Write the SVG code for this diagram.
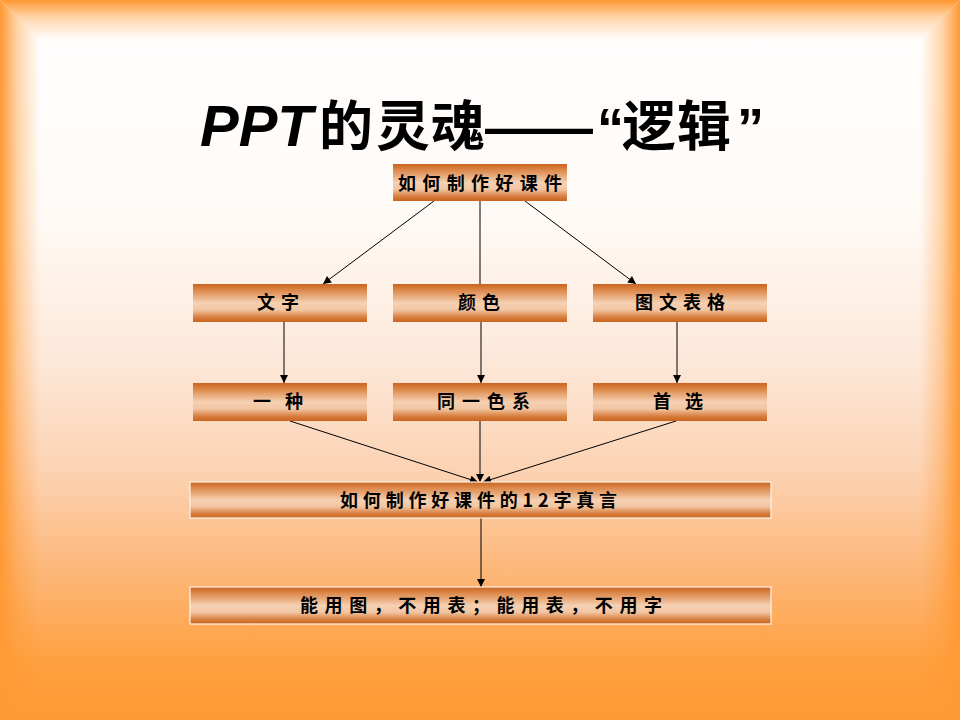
<svg xmlns="http://www.w3.org/2000/svg" width="960" height="720" viewBox="0 0 960 720">
  <defs>
    <linearGradient id="bgV" gradientUnits="userSpaceOnUse" x1="0" y1="0" x2="0" y2="720">
      <stop offset="0" stop-color="#ffffff"/>
      <stop offset="0.3" stop-color="#fffaf6"/>
      <stop offset="0.5" stop-color="#fde8d9"/>
      <stop offset="0.65" stop-color="#fcd3b4"/>
      <stop offset="0.8" stop-color="#fdb676"/>
      <stop offset="0.92" stop-color="#ffa040"/>
      <stop offset="1" stop-color="#ff9933"/>
    </linearGradient>
    <linearGradient id="bgTop" gradientUnits="userSpaceOnUse" x1="0" y1="0" x2="0" y2="40">
      <stop offset="0" stop-color="#ff9933" stop-opacity="1"/>
      <stop offset="0.45" stop-color="#ff9933" stop-opacity="0.4"/>
      <stop offset="1" stop-color="#ff9933" stop-opacity="0"/>
    </linearGradient>
    <linearGradient id="bgL" gradientUnits="userSpaceOnUse" x1="0" y1="0" x2="40" y2="0">
      <stop offset="0" stop-color="#ff9933" stop-opacity="1"/>
      <stop offset="0.45" stop-color="#ff9933" stop-opacity="0.4"/>
      <stop offset="1" stop-color="#ff9933" stop-opacity="0"/>
    </linearGradient>
    <linearGradient id="bgR" gradientUnits="userSpaceOnUse" x1="960" y1="0" x2="920" y2="0">
      <stop offset="0" stop-color="#ff9933" stop-opacity="1"/>
      <stop offset="0.45" stop-color="#ff9933" stop-opacity="0.4"/>
      <stop offset="1" stop-color="#ff9933" stop-opacity="0"/>
    </linearGradient>
    <linearGradient id="boxG" x1="0" y1="0" x2="0" y2="1">
      <stop offset="0" stop-color="#c9641f"/>
      <stop offset="0.15" stop-color="#db8546"/>
      <stop offset="0.5" stop-color="#f5d0b2"/>
      <stop offset="0.68" stop-color="#f2c6a3"/>
      <stop offset="0.88" stop-color="#d77c3c"/>
      <stop offset="1" stop-color="#c9641f"/>
    </linearGradient>
    <marker id="arr" viewBox="0 0 10 10" refX="10" refY="5" markerUnits="userSpaceOnUse" markerWidth="10" markerHeight="8" orient="auto">
      <path d="M0,0 L10,5 L0,10 z" fill="#000"/>
    </marker>
    <style>
      .box { fill: url(#boxG); }
      .box2 { fill: url(#boxG); stroke: #fff4e6; stroke-width: 1.2; }
      .lbl { font-family: "Noto Sans CJK SC", "Noto Sans", sans-serif; font-size: 18px; font-weight: 700; fill: #000; }
      .conn line { stroke: #000; stroke-width: 1; }
      .ttl { font-family: "Liberation Sans", "Noto Sans CJK SC", sans-serif; font-size: 54px; font-weight: 700; fill: #000; }
      .cjk { font-family: "Noto Sans CJK SC", sans-serif; }
    </style>
  </defs>

  <g id="background">
    <rect x="0" y="0" width="960" height="720" fill="url(#bgV)"/>
    <polygon points="0,0 960,0 920,40 40,40" fill="url(#bgTop)"/>
    <polygon points="0,0 40,40 40,720 0,720" fill="url(#bgL)"/>
    <polygon points="960,0 920,40 920,720 960,720" fill="url(#bgR)"/>
  </g>

  <g id="title">
    <text class="ttl" y="146"><tspan x="200" font-style="italic" font-size="58">PPT</tspan><tspan x="319" class="cjk">的</tspan><tspan x="376" class="cjk">灵</tspan><tspan x="431" class="cjk">魂</tspan><tspan x="485">——</tspan><tspan x="597">“</tspan><tspan x="622" class="cjk">逻</tspan><tspan x="677" class="cjk">辑</tspan><tspan x="737">”</tspan></text>
  </g>

  <g id="connectors" class="conn">
    <line x1="434" y1="201" x2="323" y2="284" marker-end="url(#arr)"/>
    <line x1="480" y1="201" x2="480" y2="284"/>
    <line x1="525" y1="201" x2="636" y2="284" marker-end="url(#arr)"/>
    <line x1="284" y1="322" x2="284" y2="383" marker-end="url(#arr)"/>
    <line x1="481" y1="322" x2="481" y2="383" marker-end="url(#arr)"/>
    <line x1="677" y1="322" x2="677" y2="383" marker-end="url(#arr)"/>
    <line x1="290" y1="421" x2="478" y2="482" marker-end="url(#arr)"/>
    <line x1="480" y1="421" x2="480" y2="482" marker-end="url(#arr)"/>
    <line x1="676" y1="421" x2="483" y2="482" marker-end="url(#arr)"/>
    <line x1="481" y1="518" x2="481" y2="587" marker-end="url(#arr)"/>
  </g>

  <g id="node-top">
    <rect class="box" x="393" y="164" width="174" height="37"/>
    <text class="lbl" x="398" y="190" textLength="164" lengthAdjust="spacing">如何制作好课件</text>
  </g>
  <g id="node-wenzi">
    <rect class="box" x="193" y="284" width="174" height="38"/>
    <text class="lbl" x="257" y="309" textLength="42" lengthAdjust="spacing">文字</text>
  </g>
  <g id="node-yanse">
    <rect class="box" x="393" y="284" width="174" height="38"/>
    <text class="lbl" x="458" y="309" textLength="42" lengthAdjust="spacing">颜色</text>
  </g>
  <g id="node-tuwen">
    <rect class="box" x="593" y="284" width="174" height="38"/>
    <text class="lbl" x="635" y="309" textLength="90" lengthAdjust="spacing">图文表格</text>
  </g>
  <g id="node-yizhong">
    <rect class="box" x="193" y="383" width="174" height="38"/>
    <text class="lbl" x="253" y="408" textLength="50" lengthAdjust="spacing">一种</text>
  </g>
  <g id="node-tongse">
    <rect class="box" x="393" y="383" width="174" height="38"/>
    <text class="lbl" x="437" y="408" textLength="93" lengthAdjust="spacing">同一色系</text>
  </g>
  <g id="node-shouxuan">
    <rect class="box" x="593" y="383" width="174" height="38"/>
    <text class="lbl" x="653" y="408" textLength="50" lengthAdjust="spacing">首选</text>
  </g>
  <g id="node-12zi">
    <rect class="box2" x="190" y="482" width="581" height="36"/>
    <text class="lbl" x="340" y="507" textLength="277" lengthAdjust="spacing">如何制作好课件的12字真言</text>
  </g>
  <g id="node-rule">
    <rect class="box2" x="190" y="587" width="581" height="37"/>
    <text class="lbl" x="300" y="612" textLength="362" lengthAdjust="spacing">能用图，不用表；能用表，不用字</text>
  </g>
</svg>
